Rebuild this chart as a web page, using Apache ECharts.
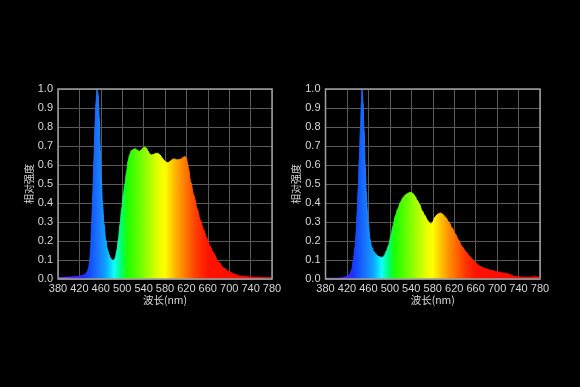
<!DOCTYPE html>
<html><head><meta charset="utf-8">
<script src="https://cdn.jsdelivr.net/npm/echarts@6/dist/echarts.min.js"></script>
<style>html,body{margin:0;padding:0;background:#000;}#c{width:580px;height:387px;}</style>
</head><body><div id="c"></div>
<script>
// X-axis tick labels (wavelength, nm)
const xTicks = [380, 420, 460, 500, 540, 580, 620, 660, 700, 740, 780];
const yTicks = [0.0, 0.1, 0.2, 0.3, 0.4, 0.5, 0.6, 0.7, 0.8, 0.9, 1.0];
const xName = '波长(nm)';
const yName = '相对强度';

// Left spectrum
const leftWave = [380,390,400,410,420,425,430,434,437,439,441,443,445,447,449,451,453,455,457,459,461,463,466,469,472,475,478,481,484,487,490,493,496,499,502,505,508,511,514,517,520,524,528,532,536,539,542,545,548,551,554,558,562,566,570,574,578,582,586,590,594,598,602,606,610,614,617,620,622,624,628,634,640,646,652,658,664,670,680,690,700,710,720,740,760,780];
const leftVal  = [0.005,0.008,0.01,0.012,0.015,0.018,0.025,0.035,0.055,0.09,0.16,0.3,0.45,0.62,0.8,0.93,1.0,0.97,0.85,0.68,0.52,0.4,0.29,0.21,0.16,0.13,0.11,0.1,0.098,0.11,0.15,0.21,0.29,0.37,0.44,0.5,0.56,0.62,0.655,0.675,0.68,0.686,0.678,0.672,0.68,0.69,0.694,0.69,0.675,0.66,0.652,0.655,0.66,0.662,0.655,0.64,0.625,0.615,0.613,0.62,0.63,0.632,0.627,0.627,0.632,0.64,0.645,0.638,0.61,0.58,0.51,0.44,0.37,0.31,0.26,0.215,0.175,0.14,0.09,0.058,0.038,0.025,0.016,0.01,0.008,0.008];

// Right spectrum
const rightWave = [380,400,410,415,420,425,429,432,435,437,439,441,443,445,447,448,450,452,454,456,458,460,463,466,470,474,478,482,486,490,494,498,502,506,510,515,520,525,530,535,539,543,547,551,555,560,565,570,574,577,580,584,588,592,595,599,604,610,616,622,628,635,642,648,655,660,667,673,680,687,694,700,710,717,722,727,732,740,750,760,766,770,774,780];
const rightVal  = [0.003,0.004,0.006,0.01,0.014,0.025,0.05,0.1,0.17,0.24,0.35,0.48,0.63,0.78,0.93,1.0,0.93,0.78,0.6,0.46,0.36,0.29,0.21,0.17,0.145,0.13,0.12,0.115,0.113,0.125,0.15,0.18,0.23,0.28,0.33,0.37,0.405,0.43,0.445,0.453,0.456,0.45,0.435,0.415,0.395,0.36,0.335,0.31,0.295,0.29,0.3,0.325,0.338,0.345,0.347,0.34,0.325,0.3,0.27,0.238,0.205,0.17,0.143,0.122,0.1,0.085,0.07,0.06,0.053,0.047,0.042,0.038,0.032,0.03,0.026,0.02,0.014,0.011,0.009,0.009,0.01,0.012,0.011,0.007];

// Spectrum colour stops (wavelength -> colour)
const specWave  = [380, 410, 430, 443, 456, 470, 485, 498, 510, 530, 550, 568, 580, 595, 610, 625, 640, 660, 780];
const specColor = ['#a040ff','#5020ff','#2030ff','#1258ff','#1c78ff','#0aa8ff','#10ffff','#00ff70','#20ff00','#60ff00','#a8ff00','#e6ff00','#ffff00','#ffc400','#ff9000','#ff6400','#ff3800','#ff1400','#ff0000'];

const x0 = xTicks[0], xSpan = xTicks[xTicks.length-1] - xTicks[0];
const stops = specWave.map((w,i)=>({offset:(w-x0)/xSpan, color:specColor[i]}));
const grad = () => new echarts.graphic.LinearGradient(0,0,1,0,stops);

const chart = echarts.init(document.getElementById('c'), null, {renderer:'canvas'});
const font = '"Liberation Sans Narrow", "Liberation Sans", sans-serif';
const cjk = '"Noto Sans CJK SC", sans-serif';
const labelColor = '#d8d8d8';
const grids = [
  {left:58, top:89, width:214, height:190},
  {left:325.5, top:89, width:214.5, height:190}
];
function xAxis(i){
  return {type:'value', gridIndex:i, min:0, max:xSpan, interval:40,
    name:xName, nameLocation:'middle', nameGap:13,
    nameTextStyle:{color:labelColor, fontSize:10.5, fontFamily:cjk},
    axisLine:{show:false}, axisTick:{show:false},
    axisLabel:{color:labelColor, fontSize:11, fontFamily:font, margin:4, formatter:v=>String(v+x0), showMinLabel:true, showMaxLabel:true},
    splitLine:{show:true, lineStyle:{color:'#5a5a5a', width:1}}};
}
function yAxis(i){
  return {type:'value', gridIndex:i, min:0, max:1, interval:0.1,
    name:yName, nameLocation:'middle', nameGap:22, nameRotate:90,
    nameTextStyle:{color:labelColor, fontSize:10, fontFamily:cjk},
    axisLine:{show:false}, axisTick:{show:false},
    axisLabel:{color:labelColor, fontSize:11, fontFamily:font, margin:5, formatter:v=>v.toFixed(1)},
    splitLine:{show:true, lineStyle:{color:'#5a5a5a', width:1}}};
}
function series(i, wave, val){
  return {type:'line', xAxisIndex:i, yAxisIndex:i, smooth:0.3, smoothMonotone:'x',
    showSymbol:false, symbol:'none',
    data: wave.map((w,k)=>[w-x0, val[k]]),
    lineStyle:{width:1, color:grad()},
    areaStyle:{color:grad(), opacity:1},
    z:3};
}
chart.setOption({
  backgroundColor:'#000',
  animation:false,
  grid: grids.map(g=>Object.assign({show:true, borderColor:'#a0a0a0', borderWidth:1.5, backgroundColor:'transparent', z:4}, g)),
  xAxis:[xAxis(0), xAxis(1)],
  yAxis:[yAxis(0), yAxis(1)],
  series:[series(0,leftWave,leftVal), series(1,rightWave,rightVal)]
});
</script></body></html>
